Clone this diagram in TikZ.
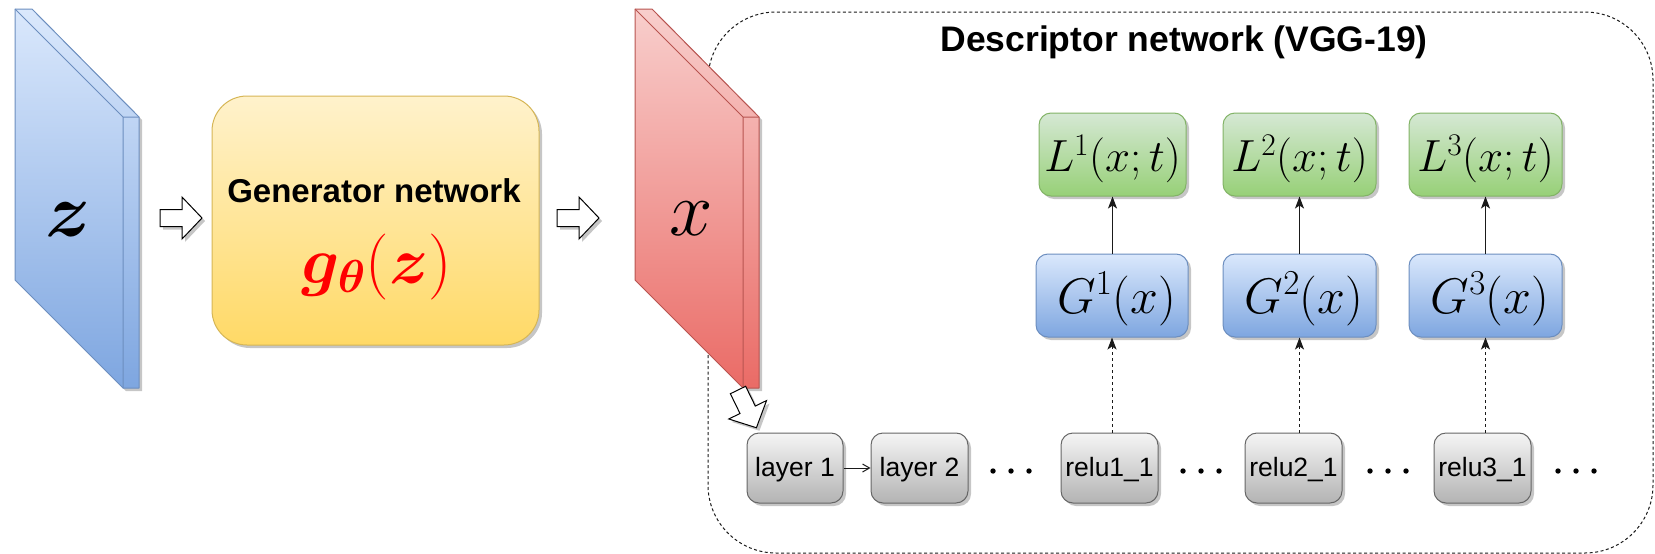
\RequirePackage{fix-cm}
\documentclass[tikz,border=0pt]{standalone}
\usepackage[no-math]{fontspec}
\usepackage{bm}
\newfontfamily\arialf{Liberation Sans}
\usetikzlibrary{arrows.meta,shadows}

% fills, gradients and strokes
\definecolor{blueA}{HTML}{DAE8FC}\definecolor{blueB}{HTML}{7EA6E0}\definecolor{blueS}{HTML}{6C8EBF}
\definecolor{redA}{HTML}{F8CECC}\definecolor{redB}{HTML}{EA6B66}\definecolor{redS}{HTML}{B85450}
\definecolor{yelA}{HTML}{FFF2CC}\definecolor{yelB}{HTML}{FFD966}\definecolor{yelS}{HTML}{D6B656}
\definecolor{grnA}{HTML}{D5E8D4}\definecolor{grnB}{HTML}{97D077}\definecolor{grnS}{HTML}{82B366}
\definecolor{gryA}{HTML}{F5F5F5}\definecolor{gryB}{HTML}{B3B3B3}\definecolor{gryS}{HTML}{666666}
\definecolor{shadowgray}{HTML}{C6C6C6}
\definecolor{linec}{HTML}{1A1A1A}

\tikzset{
  softshadow/.style={drop shadow={shadow xshift=3pt,shadow yshift=-3pt,fill=shadowgray,opacity=1}},
  box/.style={rounded corners=12pt, line width=1pt, softshadow, inner sep=0pt, align=center},
  lossbox/.style={box, draw=grnS, top color=grnA, bottom color=grnB, minimum height=83pt,
    text height=34pt, text depth=0pt, font=\fontsize{45}{52}\selectfont},
  grambox/.style={box, draw=blueS, top color=blueA, bottom color=blueB, minimum height=83pt,
    text height=35pt, text depth=0pt, font=\fontsize{50}{58}\selectfont},
  layerbox/.style={box, draw=gryS, top color=gryA, bottom color=gryB, minimum width=97pt,
    minimum height=70pt, text height=16pt, text depth=0pt, font=\arialf\fontsize{26.5}{32}\selectfont},
  genbox/.style={rounded corners=35pt, line width=1pt, softshadow, draw=yelS,
    top color=yelA, bottom color=yelB, minimum width=327pt, minimum height=249pt, inner sep=0pt},
  slabblue/.style={softshadow, draw=blueS, top color=blueA, bottom color=blueB, line width=1pt, line join=round},
  slabred/.style={softshadow, draw=redS, top color=redA, bottom color=redB, line width=1pt, line join=round},
  solidarrow/.style={draw=linec, line width=1pt, -{Stealth[length=12pt,width=9pt,inset=3pt]}},
  dasharrow/.style={solidarrow, dash pattern=on 3pt off 3pt},
  thinarrow/.style={draw=linec, line width=1pt, -{Straight Barb[length=7pt,width=8pt]}},
  container/.style={draw=linec, line width=1pt, dash pattern=on 3pt off 2.5pt, rounded corners=68pt},
  blockarrow/.pic={
    \draw[softshadow, fill=white, draw=black, line width=1pt]
      (0,-8.5) -- (22,-8.5) -- (22,-21) -- (42,0) -- (22,21) -- (22,8.5) -- (0,8.5) -- cycle;
  }
}

\begin{document}
\begin{tikzpicture}[x=1pt, y=-1pt]
\useasboundingbox (0,0) rectangle (1655,554);

% descriptor network frame (drawn first, the x slab covers part of it)
\draw[container] (708,12) rectangle (1653,553);
\node[anchor=base, font=\arialf\bfseries\fontsize{35.5}{42}\selectfont] (title) at (1184,51)
  {Descriptor network (VGG-19)};

% noise slab z
\path[slabblue] (15,9) -- (32,9) -- (139,117) -- (139,388) -- (123,388) -- (15,280) -- cycle;
\draw[blueS, line width=1pt, line join=round] (15,9) -- (123,117) -- (139,117) (123,117) -- (123,388);
\node[anchor=base, font=\fontsize{76}{86}\selectfont] (zlab) at (68,236) {$\bm{z}$};

% generator
\pic at (160,218) {blockarrow};
\node[genbox] (gen) at (375.5,220.5) {};
\node[anchor=base, font=\arialf\bfseries\fontsize{33}{40}\selectfont] (gentitle) at (374,202)
  {Generator network};
\node[anchor=base, text=red, font=\fontsize{66}{76}\selectfont] (genfun) at (377,283)
  {$\bm{g}_{\bm{\theta}}(\bm{z})$};

% synthesised image slab x
\pic at (557,218) {blockarrow};
\path[slabred] (635,9) -- (652,9) -- (759,117) -- (759,388) -- (743,388) -- (635,280) -- cycle;
\draw[redS, line width=1pt, line join=round] (635,9) -- (743,117) -- (759,117) (743,117) -- (743,388);
\node[anchor=base, font=\fontsize{78}{88}\selectfont] (xlab) at (691,235) {$x$};
\pic[rotate=-64] at (738,390) {blockarrow};

% losses and Gram matrices
\node[lossbox, minimum width=147pt] (L1) at (1112.5,154.5) {$L^1(x;t)$};
\node[lossbox, minimum width=153pt] (L2) at (1299.5,154.5) {$L^2(x;t)$};
\node[lossbox, minimum width=153pt] (L3) at (1485.5,154.5) {$L^3(x;t)$};
\node[grambox, minimum width=152pt] (G1) at (1112,295.5) {\hspace{9pt}$G^1(x)$};
\node[grambox, minimum width=153pt] (G2) at (1299.5,295.5) {\hspace{9pt}$G^2(x)$};
\node[grambox, minimum width=153pt] (G3) at (1485.5,295.5) {\hspace{9pt}$G^3(x)$};

% VGG layers
\node[layerbox, minimum width=96pt] (layer1) at (795,468) {layer 1};
\node[layerbox] (layer2) at (919.5,468) {layer 2};
\node[layerbox] (relu1) at (1109.5,468) {relu1\_1};
\node[layerbox] (relu2) at (1293.5,468) {relu2\_1};
\node[layerbox] (relu3) at (1482.5,468) {relu3\_1};

% ellipses between layers
\foreach \c in {1011,1201,1388,1576}
  \foreach \d in {-18,0,18}
    \fill[black] (\c+\d,471) circle (2.7pt);

% connectors
\draw[thinarrow] (layer1.east) -- (layer2.west);
\foreach \i in {1,2,3} {
  \draw[dasharrow] (relu\i.north -| G\i.south) -- (G\i.south);
  \draw[solidarrow] (G\i.north -| L\i.south) -- (L\i.south);
}
\end{tikzpicture}
\end{document}
